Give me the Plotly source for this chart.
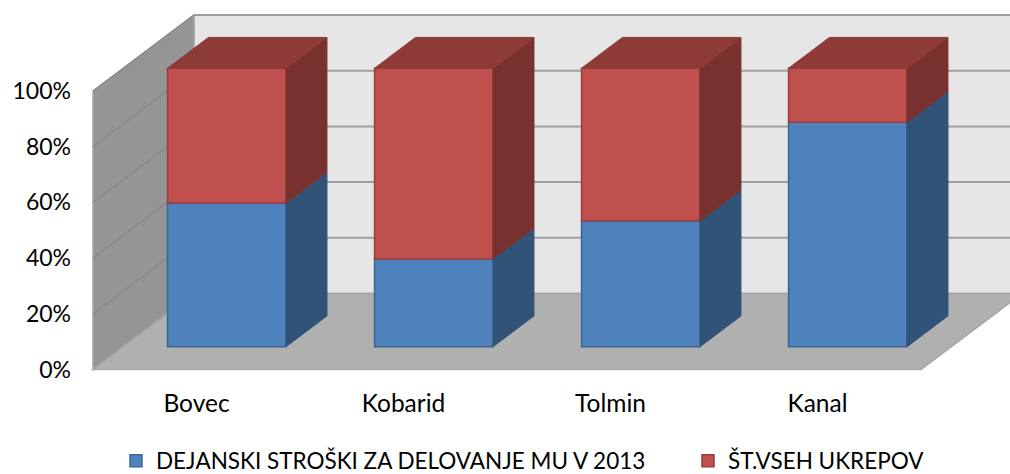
import plotly.graph_objects as go

CATEGORIES = ["Bovec", "Kobarid", "Tolmin", "Kanal"]
STROSKI = [51.6, 31.5, 45.2, 80.6]
UKREPI = [48.4, 68.5, 54.8, 19.4]
SERIES_NAMES = ["DEJANSKI STROŠKI ZA DELOVANJE MU V 2013", "ŠT.VSEH UKREPOV"]
Y_TICKS = [0, 20, 40, 60, 80, 100]
Y_LABELS = ["0%", "20%", "40%", "60%", "80%", "100%"]

W, H = 1010, 474
X0_PX, Y0_PX = 93.0, 369.5
CAT_PX, PCT_PX = 207.0, 2.785
# oblique projection of the depth axis, in data units
DEPTH_X, DEPTH_Y = 101.0 / CAT_PX, 76.0 / PCT_PX
BAR_FRONT, BAR_DEPTH = 0.30, 0.405
BAR_W = 0.5725
FONT = "Lato"
FS = 23
FS_X = 24.5
FS_LEG = 22.5


def proj(cat, pct, depth=0.0):
    return cat + depth * DEPTH_X, pct + depth * DEPTH_Y


def path(points):
    return "M " + " L ".join(f"{x},{y}" for x, y in points) + " Z"


shapes = []


def poly(points, fill, line="#a6a6a6", width=1.5):
    shapes.append(dict(type="path", path=path(points), fillcolor=fill, layer="below",
                       line=dict(color=line, width=width), xref="x", yref="y"))


n = len(CATEGORIES)
poly([proj(0, 0, 1), proj(n + 1, 0, 1), proj(n + 1, 100, 1), proj(0, 100, 1)], "#e6e6e6")
poly([proj(0, 0), proj(0, 100), proj(0, 100, 1), proj(0, 0, 1)], "#959595")
poly([proj(0, 0), proj(n, 0), proj(n, 0, 1), proj(0, 0, 1)], "#b0b0b0")
for t in Y_TICKS[1:]:
    a, b = proj(0, t), proj(0, t, 1)
    shapes.append(dict(type="line", x0=a[0], y0=a[1], x1=b[0], y1=b[1], layer="below",
                       line=dict(color="#868686", width=1.2), xref="x", yref="y"))
    c = proj(n + 1, t, 1)
    shapes.append(dict(type="line", x0=b[0], y0=b[1], x1=c[0], y1=c[1], layer="below",
                       line=dict(color="#a0a0a0", width=2), xref="x", yref="y"))

fig = go.Figure()
COL = {"blue": ("#4f81bd", "#3b6496", "#325378"), "red": ("#c0504d", "#963f3c", "#79312f")}


def face(points, fill, line):
    xs = [p[0] for p in points] + [points[0][0]]
    ys = [p[1] for p in points] + [points[0][1]]
    fig.add_trace(go.Scatter(x=xs, y=ys, mode="lines", fill="toself", fillcolor=fill,
                             line=dict(color=line, width=1), showlegend=False, hoverinfo="skip"))


centers = [i + 0.5 + BAR_FRONT * DEPTH_X for i in range(n)]
base_shift = BAR_FRONT * DEPTH_Y
fig.add_trace(go.Bar(x=centers, y=STROSKI, base=[base_shift] * n, width=BAR_W, name=SERIES_NAMES[0],
                     legend="legend",
                     marker=dict(color=COL["blue"][0], line=dict(color=COL["blue"][1], width=1.5))))
fig.add_trace(go.Bar(x=centers, y=UKREPI, base=[base_shift + v for v in STROSKI], width=BAR_W,
                     name=SERIES_NAMES[1], legend="legend2",
                     marker=dict(color=COL["red"][0], line=dict(color=COL["red"][1], width=1.5))))

for i in range(n):
    xr = i + 0.5 + BAR_W / 2
    xl = i + 0.5 - BAR_W / 2
    d0, d1 = BAR_FRONT, BAR_FRONT + BAR_DEPTH
    b = STROSKI[i]
    t = b + UKREPI[i]
    face([proj(xr, 0, d0), proj(xr, b, d0), proj(xr, b, d1), proj(xr, 0, d1)], COL["blue"][2], COL["blue"][2])
    face([proj(xr, b, d0), proj(xr, t, d0), proj(xr, t, d1), proj(xr, b, d1)], COL["red"][2], "#79312f")
    face([proj(xl, t, d0), proj(xr, t, d0), proj(xr, t, d1), proj(xl, t, d1)], "#8e3b38", "#8e3b38")

legend_common = dict(orientation="h", xanchor="left", yanchor="middle", y=(H - 461) / H,
                     bgcolor="rgba(0,0,0,0)", font=dict(family=FONT, size=FS_LEG))

fig.update_layout(
    width=W, height=H, margin=dict(l=0, r=0, t=0, b=0, autoexpand=False),
    paper_bgcolor="white", plot_bgcolor="white",
    barmode="overlay", shapes=shapes,
    font=dict(family=FONT, size=FS, color="#000000"),
    xaxis=dict(range=[-X0_PX / CAT_PX, (W - X0_PX) / CAT_PX], domain=[0, 1], anchor="free",
               position=(H - Y0_PX) / H, tickmode="array", tickvals=[i + 0.5 for i in range(n)],
               ticktext=CATEGORIES, showgrid=False, zeroline=False, showline=False, ticks="",
               ticklabelstandoff=17, tickfont=dict(size=FS_X), fixedrange=True, automargin=False),
    yaxis=dict(range=[-(H - Y0_PX) / PCT_PX, Y0_PX / PCT_PX], domain=[0, 1], anchor="free",
               position=X0_PX / W, tickmode="array", tickvals=Y_TICKS, ticktext=Y_LABELS,
               showgrid=False, zeroline=False, showline=False, ticks="", ticklabelstandoff=22,
               fixedrange=True, automargin=False),
    legend=dict(x=116 / W, **legend_common),
    legend2=dict(x=688 / W, **legend_common),
)

fig.write_html("out.html", config={"displayModeBar": False},
               post_script="document.body.style.margin='0';document.documentElement.style.overflow='hidden';")
